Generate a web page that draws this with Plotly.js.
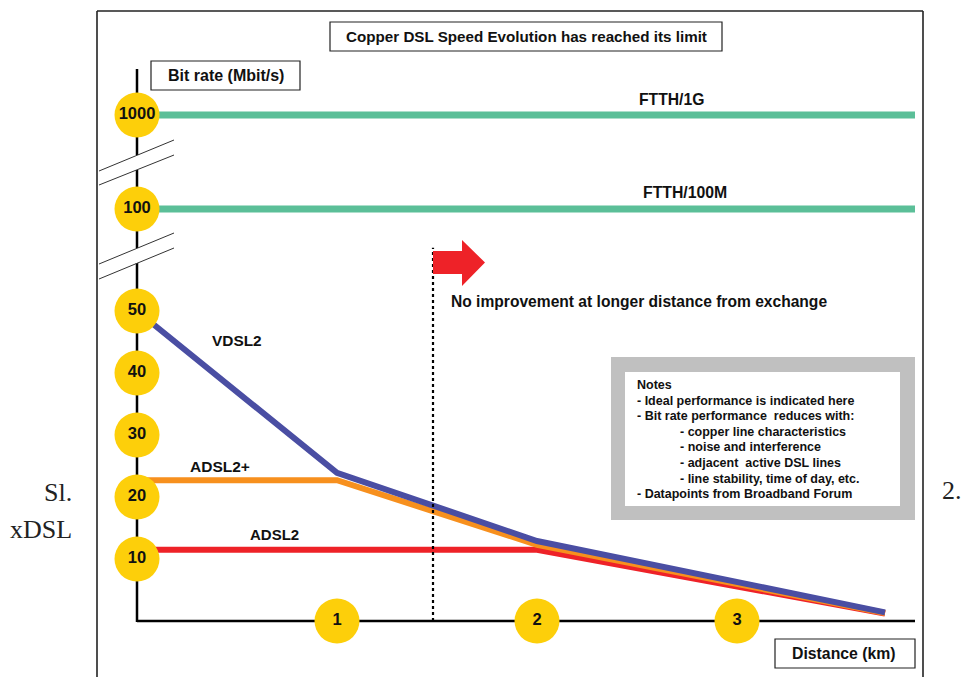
<!DOCTYPE html>
<html>
<head>
<meta charset="utf-8">
<script src="https://cdn.plot.ly/plotly-3.0.1.min.js"></script>
<style>html,body{margin:0;padding:0;background:#fff;}#chart{width:964px;height:677px;}</style>
</head>
<body>
<div id="chart"></div>
<script>
// ---------- data ----------
const distKm      = [0, 1, 2, 3.74];
const vdsl2Mbps   = [50, 23.9, 12.9, 1.4];
const adsl2pMbps  = [22.7, 22.7, 12.3, 1.3];
const adsl2Mbps   = [11.5, 11.5, 11.5, 1.2];
const fttExtentKm = [0, 3.89];
const ftth100     = [100, 100];
const ftth1G      = [1000, 1000];
const lowTicks    = [10, 20, 30, 40, 50];
const distTicks   = [1, 2, 3];
const limitKm     = 1.48;
const noteLines   = [
  ["Notes", 0],
  ["- Ideal performance is indicated here", 0],
  ["- Bit rate performance  reduces with:", 0],
  ["- copper line characteristics", 1],
  ["- noise and interference", 1],
  ["- adjacent  active DSL lines", 1],
  ["- line stability, time of day, etc.", 1],
  ["- Datapoints from Broadband Forum", 0]
];

// ---------- helpers (pixel -> paper) ----------
const W = 964, H = 677;
const PX = p => p / W;
const PY = p => 1 - p / H;

const FONT = "Liberation Sans, Arial, sans-serif";
const SERIF = "Liberation Serif, Times New Roman, serif";
const YEL = "#fdcf0a";

const circ = (x, y, yaxis, labels) => ({
  x: x, y: y, yaxis: yaxis, type: "scatter", mode: "markers+text",
  text: labels, textposition: "middle center", cliponaxis: false,
  marker: {size: 45, color: YEL, line: {width: 0}},
  textfont: {family: FONT, size: 16.5, color: "#111", weight: "bold"},
  hoverinfo: "skip", showlegend: false
});

const lineTr = (x, y, yaxis, color, w) => ({
  x: x, y: y, yaxis: yaxis, type: "scatter", mode: "lines", cliponaxis: false,
  line: {color: color, width: w, shape: "linear"}, hoverinfo: "skip", showlegend: false
});

const traces = [
  lineTr(fttExtentKm, ftth1G, "y3", "#5bbf98", 7),
  lineTr(fttExtentKm, ftth100, "y2", "#5bbf98", 7),
  lineTr(distKm, adsl2Mbps, "y", "#ee2228", 6),
  lineTr(distKm, adsl2pMbps, "y", "#f7901e", 6),
  lineTr(distKm, vdsl2Mbps, "y", "#4a4ea3", 6),
  circ(lowTicks.map(() => 0), lowTicks, "y", lowTicks.map(String)),
  circ([0], [ftth100[0]], "y2", [String(ftth100[0])]),
  circ([0], [ftth1G[0]], "y3", [String(ftth1G[0])]),
  circ(distTicks, distTicks.map(() => 0), "y", distTicks.map(String))
];

// ---------- shapes ----------
const lineP = (x0, y0, x1, y1, color, w, dash) => ({
  type: "line", xref: "paper", yref: "paper",
  x0: PX(x0), y0: PY(y0), x1: PX(x1), y1: PY(y1),
  line: {color: color, width: w, dash: dash || "solid"}, layer: "above"
});
const rectP = (x0, y0, x1, y1, fill, lc, lw) => ({
  type: "rect", xref: "paper", yref: "paper",
  x0: PX(x0), y0: PY(y0), x1: PX(x1), y1: PY(y1),
  fillcolor: fill, line: {color: lc, width: lw}, layer: "below"
});

const arrowPts = [[433,251],[462,251],[462,240],[485,262.5],[462,286],[462,274],[433,274]];
const arrowPath = "M" + arrowPts.map(p => PX(p[0]) + "," + PY(p[1])).join(" L") + " Z";

const shapes = [
  // outer frame
  lineP(97, 11, 97, 677, "#222", 1.6),
  lineP(97, 11, 923, 11, "#222", 1.6),
  lineP(923, 11, 923, 677, "#222", 1.6),
  // boxes
  rectP(330, 22, 722, 51, "#fff", "#222", 1.2),
  rectP(151, 61, 300, 90, "#fff", "#222", 1.2),
  rectP(775, 639, 915, 668, "#fff", "#222", 1.2),
  rectP(611, 357, 915, 520, "#c0c0c0", "#c0c0c0", 0),
  rectP(625, 372, 900, 506, "#fff", "#fff", 0),
  // y axis segments (broken)
  Object.assign(lineP(137, 69, 137, 155, "#000", 2.5), {layer: "below"}),
  Object.assign(lineP(137, 170, 137, 248, "#000", 2.5), {layer: "below"}),
  Object.assign(lineP(137, 263, 137, 622, "#000", 2.5), {layer: "below"}),
  // x axis
  {type: "line", xref: "x", yref: "y", x0: 0, y0: 0, x1: fttExtentKm[1], y1: 0,
   line: {color: "#000", width: 2.5}, layer: "below"},
  // break marks
  lineP(99, 171, 174, 140, "#333", 1),
  lineP(99, 185, 174, 155, "#333", 1),
  lineP(99, 264, 174, 233, "#333", 1),
  lineP(99, 279, 174, 248, "#333", 1),
  // dotted limit line
  {type: "line", xref: "x", yref: "y", x0: limitKm, y0: 0, x1: limitKm, y1: 60.2,
   line: {color: "#000", width: 2.2, dash: "dot"}, layer: "above"},
  // red arrow
  {type: "path", xref: "paper", yref: "paper", path: arrowPath,
   fillcolor: "#ee2228", line: {width: 0}, layer: "above"}
];

// ---------- annotations ----------
const bold = s => ({family: FONT, size: s, color: "#111", weight: "bold"});
const annP = (x, y, text, size, opts) => Object.assign({
  xref: "paper", yref: "paper", x: PX(x), y: PY(y), text: text, showarrow: false,
  xanchor: "center", yanchor: "middle", font: bold(size)
}, opts || {});

const annotations = [
  annP(526, 36.5, "Copper DSL Speed Evolution has reached its limit", 15.2),
  annP(225.5, 75.5, "Bit rate (Mbit/s)", 16),
  annP(844, 653.5, "Distance (km)", 15.8),
  annP(449, 301, "No improvement at longer distance from exchange", 15.6, {xanchor: "left"}),
  {xref: "x", yref: "y3", x: 2.67, y: ftth1G[0], yshift: 15, text: "FTTH/1G", showarrow: false, font: bold(15.7)},
  {xref: "x", yref: "y2", x: 2.74, y: ftth100[0], yshift: 17, text: "FTTH/100M", showarrow: false, font: bold(15.8)},
  {xref: "x", yref: "y", x: 0.5, y: 45.3, text: "VDSL2", showarrow: false, font: bold(15.4)},
  {xref: "x", yref: "y", x: 0.415, y: 25, text: "ADSL2+", showarrow: false, font: bold(15.5)},
  {xref: "x", yref: "y", x: 0.685, y: 13.9, text: "ADSL2", showarrow: false, font: bold(15)},
  annP(58, 492, "Sl.", 26, {font: {family: SERIF, size: 26, color: "#222"}}),
  annP(40.5, 529, "xDSL", 26, {font: {family: SERIF, size: 26, color: "#222"}}),
  annP(952, 490, "2.", 26, {font: {family: SERIF, size: 26, color: "#222"}})
];
const noteY0 = 385, noteDy = 15.6;
noteLines.forEach((n, i) => {
  annotations.push(annP(n[1] ? 678 : 635, noteY0 + i * noteDy, n[0], 12.5, {xanchor: "left"}));
});

// ---------- axes ----------
const yPx = 6.2;           // px per Mbit/s on the low band
const y0px = 621;          // pixel of 0 Mbit/s
const layout = {
  width: W, height: H,
  margin: {l: 0, r: 0, t: 0, b: 0, pad: 0},
  paper_bgcolor: "#fff", plot_bgcolor: "rgba(0,0,0,0)",
  showlegend: false,
  xaxis: {range: [-137 / 200, (W - 137) / 200], visible: false, fixedrange: true},
  yaxis: {range: [-(H - y0px) / yPx, y0px / yPx], domain: [0, 1], visible: false, fixedrange: true},
  yaxis2: {range: [80, 120], domain: [PY(209) - 0.05, PY(209) + 0.05], anchor: "x", visible: false, fixedrange: true},
  yaxis3: {range: [800, 1200], domain: [PY(115) - 0.05, PY(115) + 0.05], anchor: "x", visible: false, fixedrange: true},
  shapes: shapes,
  annotations: annotations
};

Plotly.newPlot("chart", traces, layout, {displayModeBar: false, staticPlot: true});
</script>
</body>
</html>
